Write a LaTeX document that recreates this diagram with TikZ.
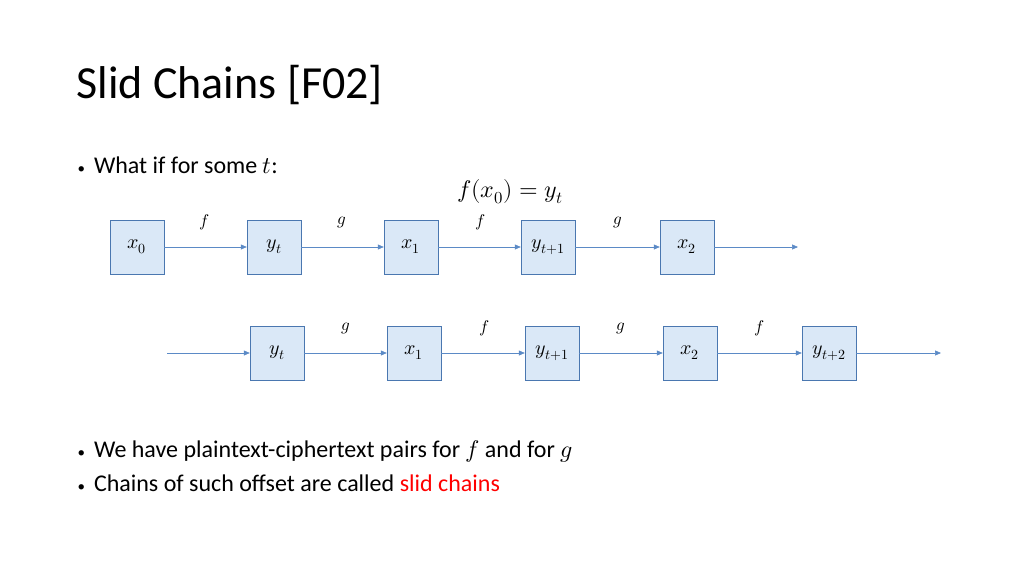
\documentclass[tikz,border=0pt]{standalone}
\usepackage{fontspec}
\setmainfont{Carlito}
\usepackage{unicode-math}
\setmathfont{Latin Modern Math}
\definecolor{boxfill}{HTML}{DAE8F7}
\definecolor{boxline}{HTML}{4A77B0}
\definecolor{arrowline}{HTML}{5B8AC6}
\usetikzlibrary{arrows.meta}
\newcommand{\bul}{{\fontsize{15}{18}\selectfont\textbullet}\hspace{9pt}}
\begin{document}
\begin{tikzpicture}[x=1pt,y=-1pt,
  blk/.style={rectangle, fill=boxfill, draw=boxline, minimum size=54pt, inner sep=0pt, font=\fontsize{20}{24}\selectfont},
  arr/.style={draw=arrowline, -{Triangle[length=6pt,width=5pt]}, line width=0.6pt},
  lbl/.style={font=\fontsize{17}{20}\selectfont},
  txt/.style={anchor=west, font=\fontsize{24}{28}\selectfont}]
\useasboundingbox (0,0) rectangle (1024,576);
\node [anchor=west, font=\fontsize{46}{52}\selectfont] (title) at (73,85) {Slid Chains [F02]};
\node [txt] (b1) at (74,165) {\bul What if for some $t$:};
\node [font=\fontsize{24}{28}\selectfont] (eq) at (510,192) {$f(x_0)=y_t$};
% first chain
\node [blk] (a0) at (137,247) {$x_0$};
\node [blk] (a1) at (274,247) {$y_t$};
\node [blk] (a2) at (411,247) {$x_1$};
\node [blk] (a3) at (548,247) {$y_{t+1}$};
\node [blk] (a4) at (687,247) {$x_2$};
\coordinate (aend) at (798,247);
\draw [arr] (a0) -- (a1);
\draw [arr] (a1) -- (a2);
\draw [arr] (a2) -- (a3);
\draw [arr] (a3) -- (a4);
\draw [arr] (a4) -- (aend);
\node [lbl] (fa1) at (204,222) {$f$};
\node [lbl] (ga1) at (342,222) {$g$};
\node [lbl] (fa2) at (480,222) {$f$};
\node [lbl] (ga2) at (618,222) {$g$};
% second chain
\coordinate (bstart) at (167,353);
\node [blk] (c1) at (277,353) {$y_t$};
\node [blk] (c2) at (414,353) {$x_1$};
\node [blk] (c3) at (552,353) {$y_{t+1}$};
\node [blk] (c4) at (690,353) {$x_2$};
\node [blk] (c5) at (829,353) {$y_{t+2}$};
\coordinate (bend) at (941,353);
\draw [arr] (bstart) -- (c1);
\draw [arr] (c1) -- (c2);
\draw [arr] (c2) -- (c3);
\draw [arr] (c3) -- (c4);
\draw [arr] (c4) -- (c5);
\draw [arr] (c5) -- (bend);
\node [lbl] (gb1) at (346,328) {$g$};
\node [lbl] (fb1) at (484,328) {$f$};
\node [lbl] (gb2) at (621,328) {$g$};
\node [lbl] (fb2) at (759,328) {$f$};
% bullets
\node [txt] (b2) at (74,451) {\bul We have plaintext-ciphertext pairs for $f$ and for $g$};
\node [txt] (b3) at (74,483) {\bul Chains of such offset are called \textcolor{red}{slid chains}};
\end{tikzpicture}
\end{document}
